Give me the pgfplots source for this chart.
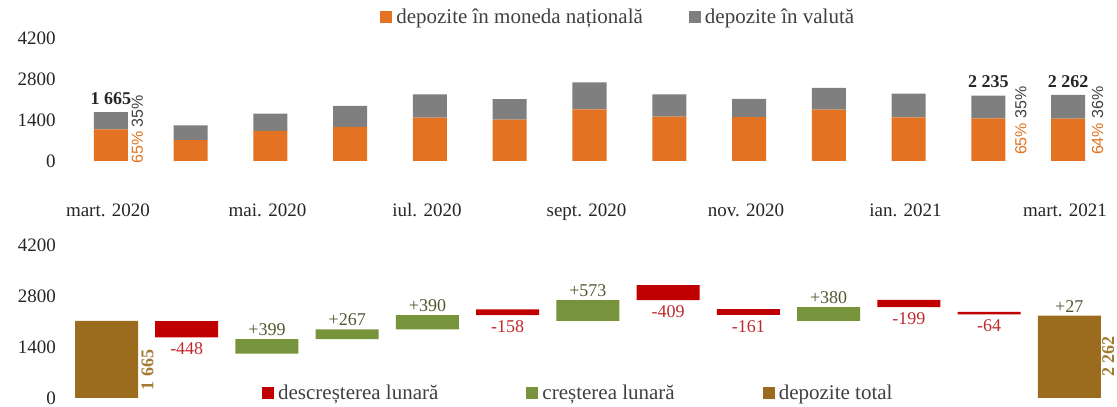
\documentclass[border=0pt]{standalone}
\usepackage{fontspec}
\setmainfont{Liberation Serif}
\newfontfamily\sansf{Liberation Sans}
\usepackage{pgfplots}
\pgfplotsset{compat=1.18}
\definecolor{cOr}{HTML}{E37222}
\definecolor{cGr}{HTML}{7F7F7F}
\definecolor{cRed}{HTML}{C00000}
\definecolor{cGrn}{HTML}{77933C}
\definecolor{cBrn}{HTML}{9B6B1E}
\definecolor{cRedT}{HTML}{C0282D}
\definecolor{cGrnT}{HTML}{4E5B31}
\definecolor{cBrnT}{HTML}{A27B35}
\definecolor{cTxt}{HTML}{262626}
\definecolor{cPct}{HTML}{404040}
\definecolor{cLeg}{HTML}{404040}
\pgfplotsset{
  sqleg/.style={legend image code/.code={\fill[##1] (0pt,-6pt) rectangle (12pt,6pt);}},
  common/.style={scale only axis, enlargelimits=false, clip=false,
    xmin=-0.5, xmax=12.5, ymin=0, ymax=4200,
    axis line style={draw=none}, major tick length=0pt, tick style={draw=none},
    ytick={0,1400,2800,4200}, yticklabels={0,1400,2800,4200},
    ticklabel style={font=\fontsize{19}{21}\selectfont, text=cTxt}},
  topgeo/.style={common, at={(71.1pt,246pt)}, anchor=south west, width=1036.8pt, height=123pt,
    yticklabel style={xshift=-12pt}},
  botgeo/.style={common, at={(66.4pt,9pt)}, anchor=south west, width=1043pt, height=153pt,
    yticklabel style={xshift=-7pt}},
  legsty/.style={legend style={draw=none, fill=none, inner sep=0pt, legend columns=-1,
    nodes={inner sep=2pt},
    font=\fontsize{21}{23}\selectfont, text=cLeg,
    /tikz/every odd column/.append style={column sep=2pt},
    /tikz/every even column/.append style={column sep=#1}}},
}
\begin{document}
\begin{tikzpicture}[x=1pt,y=1pt]
\useasboundingbox (0,0) rectangle (1117,407);

% ---------- top chart: structure of deposits ----------
\begin{axis}[topgeo, ybar stacked, bar width=34pt,
  xtick={0,2,4,6,8,10,12},
  xticklabels={mart. 2020,mai. 2020,iul. 2020,sept. 2020,nov. 2020,ian. 2021,mart. 2021},
  xticklabel style={yshift=-39pt, xshift=-3pt},
  legsty=44pt, legend style={at={(0.298,1.171)}, anchor=west}]
\addplot[fill=cOr, draw=none, sqleg] table {
x y
0 1082
1 714
2 1027
3 1162
4 1480
5 1410
6 1761
7 1519
8 1500
9 1752
10 1486
11 1453
12 1448
};
\addlegendentry{depozite în moneda națională}
\addplot[fill=cGr, draw=none, sqleg] table {
x y
0 583
1 503
2 589
3 721
4 793
5 705
6 927
7 760
8 618
9 746
10 813
11 782
12 814
};
\addlegendentry{depozite în valută}
\end{axis}

\begin{axis}[topgeo, hide axis]
\addplot[draw=none, mark=none, nodes near coords, point meta=explicit symbolic,
  every node near coord/.append style={font=\bfseries\fontsize{18}{20}\selectfont, text=cTxt, anchor=south, yshift=4pt}]
  coordinates {(0,1665) [1 665] (11,2235) [2 235] (12,2262) [2 262]};
\addplot[draw=none, mark=none, nodes near coords, point meta=explicit symbolic,
  every node near coord/.append style={font=\sansf\fontsize{16}{18}\selectfont, rotate=90, anchor=west, inner sep=0pt}]
  coordinates {(0.33,-100) [{\color{cOr}65\%} {\color{cPct}35\%}]
               (11.41,200) [{\color{cOr}65\%} {\color{cPct}35\%}]
               (12.37,200) [{\color{cOr}64\%} {\color{cPct}36\%}]};
\end{axis}

% ---------- bottom chart: waterfall ----------
\begin{axis}[botgeo, ybar stacked, bar width=63pt, xtick=\empty,
  legsty=86pt, legend style={at={(0.1875,0.030)}, anchor=west}]
\addplot[draw=none, fill=none, forget plot] table {
x y
0 0
1 1665
2 1217
3 1616
4 1883
5 2273
6 2115
7 2688
8 2279
9 2118
10 2498
11 2299
12 0
};
\addplot[fill=cRed, draw=none, sqleg] table {
x y
0 0
1 448
2 0
3 0
4 0
5 158
6 0
7 409
8 161
9 0
10 199
11 64
12 0
};
\addlegendentry{descreșterea lunară}
\addplot[fill=cGrn, draw=none, sqleg] table {
x y
0 0
1 0
2 399
3 267
4 390
5 0
6 573
7 0
8 0
9 380
10 0
11 0
12 0
};
\addlegendentry{creșterea lunară}
\addplot[fill=cBrn, draw=none, sqleg] table {
x y
0 2120
1 0
2 0
3 0
4 0
5 0
6 0
7 0
8 0
9 0
10 0
11 0
12 2262
};
\addlegendentry{depozite total}
\end{axis}

\begin{axis}[botgeo, hide axis]
\addplot[draw=none, mark=none, nodes near coords, point meta=explicit symbolic,
  every node near coord/.append style={font=\fontsize{18}{20}\selectfont, text=cRedT, anchor=north, yshift=-2pt}]
  coordinates {(1,1665) [-448] (5,2273) [-158] (7,2688) [-409] (8,2279) [-161] (10,2498) [-199] (11,2299) [-64]};
\addplot[draw=none, mark=none, nodes near coords, point meta=explicit symbolic,
  every node near coord/.append style={font=\fontsize{18}{20}\selectfont, text=cGrnT, anchor=south, yshift=0pt}]
  coordinates {(2,1616) [+399] (3,1883) [+267] (4,2273) [+390] (6,2688) [+573] (9,2498) [+380] (12,2262) [+27]};
\addplot[draw=none, mark=none, nodes near coords, point meta=explicit symbolic,
  every node near coord/.append style={font=\bfseries\fontsize{18}{20}\selectfont, text=cBrnT, rotate=90, anchor=west, inner sep=0pt}]
  coordinates {(0.51,210) [1 665] (12.485,577) [2 262]};
\end{axis}
\end{tikzpicture}
\end{document}
